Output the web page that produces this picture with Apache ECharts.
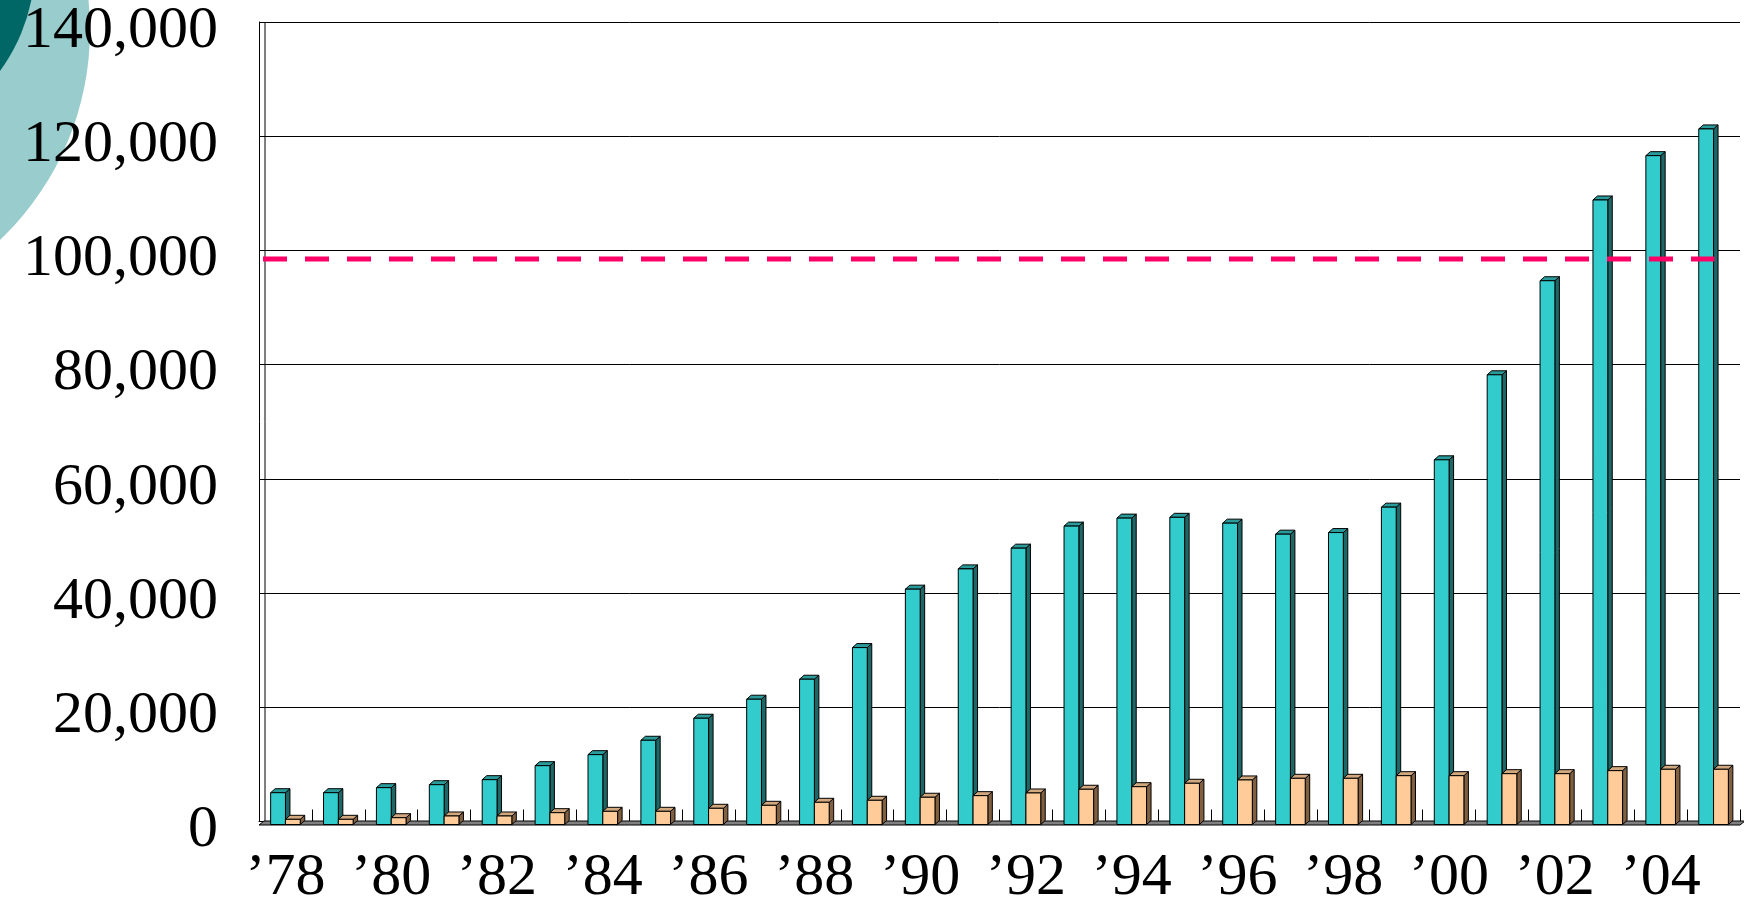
<!DOCTYPE html>
<html>
<head>
<meta charset="utf-8">
<script src="https://cdn.jsdelivr.net/npm/echarts@6/dist/echarts.min.js"></script>
<style>
  html, body { margin: 0; padding: 0; background: #ffffff; }
  #chart { width: 1744px; height: 903px; }
</style>
</head>
<body>
<div id="chart"></div>
<script>
// Years 1978 - 2005
const years = ['’78', '’79', '’80', '’81', '’82', '’83', '’84', '’85', '’86', '’87',
               '’88', '’89', '’90', '’91', '’92', '’93', '’94', '’95', '’96', '’97',
               '’98', '’99', '’00', '’01', '’02', '’03', '’04', '’05'];

// Tall teal columns
const totalValues = [5570, 5570, 6450, 6970, 7850, 10300, 12230, 14750, 18610, 21940,
                     25440, 30980, 41210, 44760, 48390, 52250, 53650, 53790, 52770, 50840,
                     51120, 55570, 63860, 78750, 95220, 109360, 117120, 121800];

// Short peach columns
const subValues = [910, 910, 1190, 1490, 1490, 2070, 2310, 2310, 2840, 3360,
                   3890, 4240, 4770, 5050, 5520, 6170, 6620, 7220, 7800, 8090,
                   8090, 8550, 8550, 8900, 8900, 9430, 9670, 9670];

// Dashed reference level
const referenceLevel = [98500];

// Value axis range
const axisMin = 0;
const axisMax = 140000;
const axisStep = 20000;

// 3D column geometry (pixels)
const BAR_W = 14.8;      // front face width
const DEPTH_X = 4.5;     // side face depth
const DEPTH_Y = 4;       // top face depth
const FRONT_DY = 3;      // front plane sits slightly below the back wall
const FONT = '"Liberation Serif", "Times New Roman", serif';

function columnRenderer(faceColor, sideColor, topColor, shift) {
  return function (params, api) {
    const cat = api.value(0);
    const val = api.value(1);
    const base = api.coord([cat, 0]);
    const tip = api.coord([cat, val]);
    const x0 = base[0] + shift * BAR_W;
    const yb = base[1] + FRONT_DY;
    const yt = tip[1] + FRONT_DY;
    const w = BAR_W, dx = DEPTH_X, dy = DEPTH_Y;
    const edge = { stroke: '#000000', lineWidth: 1 };
    return {
      type: 'group',
      children: [
        { type: 'polygon',
          shape: { points: [[x0 + w, yt], [x0 + w + dx, yt - dy], [x0 + w + dx, yb - dy], [x0 + w, yb]] },
          style: Object.assign({ fill: sideColor }, edge) },
        { type: 'polygon',
          shape: { points: [[x0, yt], [x0 + dx, yt - dy], [x0 + w + dx, yt - dy], [x0 + w, yt]] },
          style: Object.assign({ fill: topColor }, edge) },
        { type: 'rect',
          shape: { x: x0, y: yt, width: w, height: yb - yt },
          style: Object.assign({ fill: faceColor }, edge) }
      ]
    };
  };
}

// Floor slab and back edge of the left wall
function floorRenderer(params, api) {
  const cs = params.coordSys;
  const yBack = cs.y + cs.height;
  const yFront = yBack + FRONT_DY + 0.5;
  const x = cs.x, r = cs.x + cs.width;
  return {
    type: 'group',
    children: [
      { type: 'line', shape: { x1: x + 6, y1: cs.y, x2: x + 6, y2: yBack },
        style: { stroke: '#000000', lineWidth: 1 } },
      { type: 'polygon',
        shape: { points: [[x, yFront], [r, yFront], [r + 5, yBack - 0.5], [x + 5, yBack - 0.5]] },
        style: { fill: '#808080', stroke: '#000000', lineWidth: 1 } }
    ]
  };
}

function referenceRenderer(params, api) {
  const cs = params.coordSys;
  const end = api.coord([api.value(0), api.value(1)]);
  return {
    type: 'line',
    shape: { x1: cs.x + 4, y1: end[1], x2: end[0] + 1, y2: end[1] },
    style: { stroke: '#FF0066', lineWidth: 5, lineDash: [24, 18] }
  };
}

const chart = echarts.init(document.getElementById('chart'), null, { renderer: 'canvas' });

chart.setOption({
  backgroundColor: '#ffffff',
  animation: false,
  graphic: [
    { type: 'circle', z: -1, shape: { cx: -200, cy: 30, r: 290 }, style: { fill: '#99CCCC' } },
    { type: 'circle', z: -1, shape: { cx: -146, cy: -36, r: 181 }, style: { fill: '#006666' } }
  ],
  grid: { left: 259, right: 4, top: 22, bottom: 81.5, outerBoundsMode: 'none' },
  xAxis: {
    type: 'category',
    data: years,
    boundaryGap: true,
    axisLine: { show: true, lineStyle: { color: '#000000', width: 1 } },
    axisTick: { show: true, inside: true, length: 12, interval: 0, lineStyle: { color: '#000000' } },
    axisLabel: { interval: 1, fontFamily: FONT, fontSize: 60, color: '#000000', margin: 27 },
    splitLine: { show: false }
  },
  yAxis: {
    type: 'value',
    min: axisMin,
    max: axisMax,
    interval: axisStep,
    axisLine: { show: true, lineStyle: { color: '#000000', width: 1 } },
    axisTick: { show: true, inside: true, length: 12, lineStyle: { color: '#000000' } },
    axisLabel: {
      fontFamily: FONT, fontSize: 60, color: '#000000', margin: 41,
      verticalAlign: 'top', lineHeight: 18,
      formatter: v => v.toLocaleString('en-US')
    },
    splitLine: { show: true, lineStyle: { color: '#000000', width: 1 } }
  },
  series: [
    { type: 'custom', name: 'floor', z: 1, renderItem: floorRenderer, data: [[0, 0]], silent: true },
    { type: 'custom', name: 'total', z: 2,
      renderItem: columnRenderer('#33CCCC', '#1F6666', '#2A9B9B', -1),
      encode: { x: 0, y: 1 },
      data: totalValues.map((v, i) => [i, v]) },
    { type: 'custom', name: 'sub', z: 3,
      renderItem: columnRenderer('#FFCC99', '#806040', '#D2A87E', 0),
      encode: { x: 0, y: 1 },
      data: subValues.map((v, i) => [i, v]) },
    { type: 'custom', name: 'reference', z: 4,
      renderItem: referenceRenderer,
      encode: { x: 0, y: 1 },
      data: referenceLevel.map(v => [years.length - 1, v]) }
  ]
});
</script>
</body>
</html>
